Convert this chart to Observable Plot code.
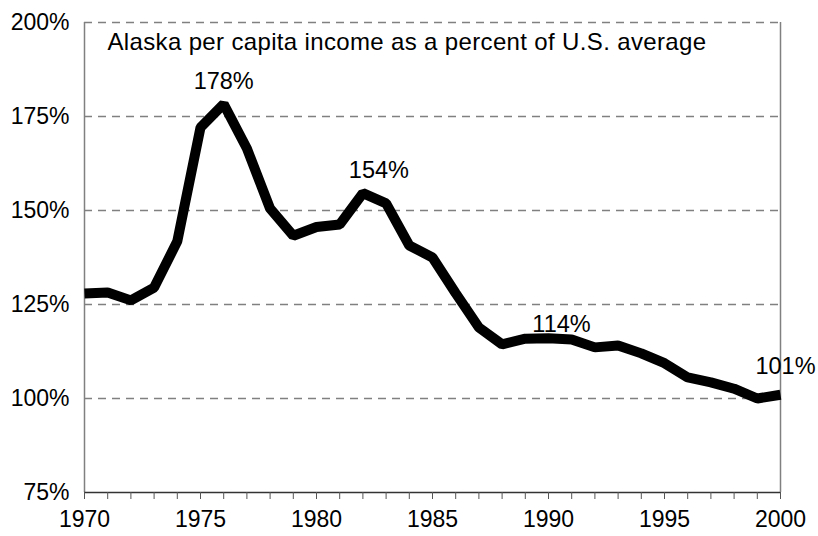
<!DOCTYPE html>
<html>
<head>
<meta charset="utf-8">
<script src="https://cdn.jsdelivr.net/npm/d3@7"></script>
<script src="https://cdn.jsdelivr.net/npm/@observablehq/plot@0.6"></script>
<style>
  html, body { margin: 0; padding: 0; background: #fff; }
  #chart { width: 818px; height: 536px; }
</style>
</head>
<body>
<div id="chart"></div>
<script>
const years = d3.range(1970, 2001);
const values = [127.9, 128.2, 126.1, 129.5, 141.8, 172.1, 178.3, 166.5, 150.5, 143.3, 145.6, 146.3, 154.6, 151.9, 140.7, 137.5, 128.0, 118.9, 114.4, 115.9, 116.0, 115.7, 113.6, 114.1, 112.0, 109.4, 105.6, 104.3, 102.6, 100.0, 101.0];
const labelYears = [1976, 1982, 1990, 2000];
const labelValues = [178, 154, 114, 101];
const labelTexts = ["178%", "154%", "114%", "101%"];
const gridValues = [100, 125, 150, 175, 200];
const yTicks = [75, 100, 125, 150, 175, 200];
const title = "Alaska per capita income as a percent of U.S. average";

const series = years.map((y, i) => ({year: y, value: values[i]}));
const labels = labelYears.map((y, i) => ({year: y, value: labelValues[i], text: labelTexts[i]}));
const offsets = [[0, -24], [16, -25], [13, -21], [5, -28]];

const chart = Plot.plot({
  width: 818,
  height: 536,
  marginLeft: 84,
  marginRight: 38,
  marginTop: 22,
  marginBottom: 44,
  style: {fontFamily: "'Liberation Sans', Arial, sans-serif", fontSize: "23px", color: "#000", background: "#fff"},
  x: {domain: [1970, 2000]},
  y: {domain: [75, 200]},
  marks: [
    Plot.ruleY(gridValues, {stroke: "#808080", strokeWidth: 1.3, strokeDasharray: "8,6"}),
    Plot.ruleX([1970, 2000], {stroke: "#808080", strokeWidth: 1.5}),
    Plot.ruleY([75], {stroke: "#333", strokeWidth: 1.5}),
    Plot.axisX({ticks: years, tickSize: 7, tickPadding: 11, stroke: "#555", tickFormat: d => d % 5 === 0 ? String(d) : "", label: null, fontSize: 23}),
    Plot.axisY({ticks: yTicks, tickSize: 0, tickPadding: 15, tickFormat: d => d + "%", label: null, fontSize: 23}),
    Plot.line(series, {x: "year", y: "value", stroke: "#000", strokeWidth: 10, strokeLinejoin: "miter", strokeLinecap: "butt"}),
    ...labels.map((d, i) => Plot.text([d], {x: "year", y: "value", text: "text", dx: offsets[i][0], dy: offsets[i][1], fill: "#000", fontSize: 23.5})),
    Plot.text([title], {frameAnchor: "top-left", dx: 23, dy: 10, fill: "#000", fontSize: 24, textAnchor: "start", lineAnchor: "top"})
  ]
});
const textGroups = chart.querySelectorAll('g[aria-label="text"]');
if (textGroups.length) textGroups[textGroups.length - 1].style.letterSpacing = "0.35px";
document.getElementById("chart").appendChild(chart);
</script>
</body>
</html>
